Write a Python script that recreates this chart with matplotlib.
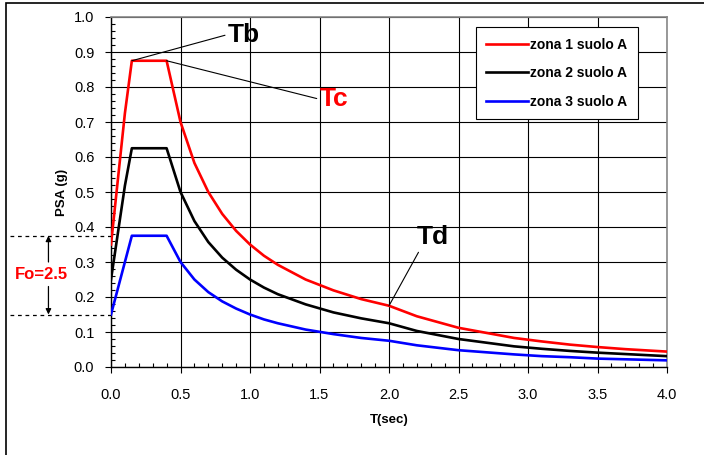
import matplotlib.pyplot as plt
from matplotlib.patches import Rectangle
from matplotlib.ticker import MultipleLocator

plt.rcParams['font.family'] = ['Liberation Sans', 'DejaVu Sans']

T = [0.0, 0.1, 0.15, 0.4, 0.5, 0.6, 0.7, 0.8, 0.9, 1.0, 1.1, 1.2, 1.4, 1.6, 1.8,
     2.0, 2.2, 2.5, 2.9, 3.1, 3.3, 3.5, 3.7, 4.0]
zona1 = [0.35, 0.725, 0.875, 0.875, 0.70, 0.583, 0.50, 0.4375, 0.389, 0.35, 0.318,
         0.292, 0.25, 0.219, 0.194, 0.175, 0.145, 0.112, 0.083, 0.073, 0.064, 0.057,
         0.051, 0.044]
zona2 = [0.25, 0.518, 0.625, 0.625, 0.50, 0.417, 0.357, 0.3125, 0.278, 0.25, 0.227,
         0.208, 0.179, 0.156, 0.139, 0.125, 0.103, 0.08, 0.059, 0.052, 0.046, 0.041,
         0.037, 0.031]
zona3 = [0.15, 0.30, 0.375, 0.375, 0.30, 0.25, 0.214, 0.1875, 0.167, 0.15, 0.136,
         0.125, 0.107, 0.094, 0.083, 0.075, 0.062, 0.048, 0.036, 0.031, 0.028, 0.024,
         0.022, 0.019]
labels = ['zona 1 suolo A', 'zona 2 suolo A', 'zona 3 suolo A']
colors = ['#ff0000', '#000000', '#0000ff']

fig = plt.figure(figsize=(7.04, 4.55), dpi=100)
W, H = 704, 455
ax = fig.add_axes([111 / W, 1 - 367 / H, (667 - 111) / W, (367 - 17) / H])

for y, lab, c in zip([zona1, zona2, zona3], labels, colors):
    ax.plot(T, y, color=c, lw=1.9, label=lab, zorder=3)

ax.set_xlim(0, 4)
ax.set_ylim(0, 1)
ax.xaxis.set_major_locator(MultipleLocator(0.5))
ax.xaxis.set_minor_locator(MultipleLocator(0.1))
ax.yaxis.set_major_locator(MultipleLocator(0.1))
ax.yaxis.set_minor_locator(MultipleLocator(0.02))
ax.xaxis.set_major_formatter(lambda v, _: '{:.1f}'.format(v))
ax.yaxis.set_major_formatter(lambda v, _: '{:.1f}'.format(v))
ax.grid(True, which='major', color='black', lw=0.8)
ax.tick_params(which='major', direction='out', length=4, width=0.8, labelsize=10.5)
ax.tick_params(axis='x', which='major', pad=11)
ax.tick_params(axis='y', which='major', pad=8)
ax.tick_params(which='minor', direction='in', length=3, width=0.8)
for s in ['top', 'right']:
    ax.spines[s].set_color('#888888')
    ax.spines[s].set_linewidth(1.2)
for s in ['left', 'bottom']:
    ax.spines[s].set_linewidth(1.0)

ax.set_xlabel('T(sec)', fontsize=9.5, fontweight='bold', labelpad=9)
ax.set_ylabel('PSA (g)', fontsize=9.5, fontweight='bold', labelpad=4)

leg = ax.legend(loc='upper right', bbox_to_anchor=(0.947, 0.971),
                prop={'weight': 'bold', 'size': 10}, fancybox=False, framealpha=1,
                edgecolor='black', handlelength=3.0, handletextpad=0.15,
                labelspacing=1.05, borderpad=0.75, borderaxespad=0)
leg.get_frame().set_linewidth(0.8)

ax.annotate('Tb', xy=(0.15, 0.875), xytext=(0.84, 0.95), fontsize=19,
            fontweight='bold', va='center', ha='left',
            arrowprops=dict(arrowstyle='-', color='black', lw=0.8,
                            shrinkA=0, shrinkB=0, relpos=(0, 0.5)))
ax.annotate('Tc', xy=(0.4, 0.875), xytext=(1.5, 0.765), fontsize=19,
            fontweight='bold', color='#ff0000', va='center', ha='left',
            arrowprops=dict(arrowstyle='-', color='black', lw=0.8,
                            shrinkA=0, shrinkB=0, relpos=(0, 0.5)))
ax.annotate('Td', xy=(2.0, 0.175), xytext=(2.2, 0.37), fontsize=19,
            fontweight='bold', va='center', ha='left',
            arrowprops=dict(arrowstyle='-', color='black', lw=0.8,
                            shrinkA=0, shrinkB=0, relpos=(0.1, 0)))

# Fo bracket outside the axes
fo_top, fo_bot = 0.375, 0.15
for yv in [fo_top, fo_bot]:
    ax.plot([-0.73, 0], [yv, yv], ls=(0, (3, 3)), color='black', lw=0.9,
            clip_on=False)
ax.annotate('', xy=(-0.45, fo_top), xytext=(-0.45, 0.30), annotation_clip=False,
            arrowprops=dict(arrowstyle='-|>', color='black', lw=0.9,
                            mutation_scale=8, shrinkA=0, shrinkB=0))
ax.annotate('', xy=(-0.45, fo_bot), xytext=(-0.45, 0.23), annotation_clip=False,
            arrowprops=dict(arrowstyle='-|>', color='black', lw=0.9,
                            mutation_scale=8, shrinkA=0, shrinkB=0))
ax.text(-0.5, 0.265, 'Fo=2.5', color='#ff0000', fontsize=12, fontweight='bold',
        ha='center', va='center', clip_on=False)

fig.patches.append(Rectangle((6 / W, -0.05), 1.1, 1 - 3 / H + 0.05,
                             transform=fig.transFigure, fill=False,
                             edgecolor='black', lw=1.2))

fig.savefig('out.png', dpi=100)
